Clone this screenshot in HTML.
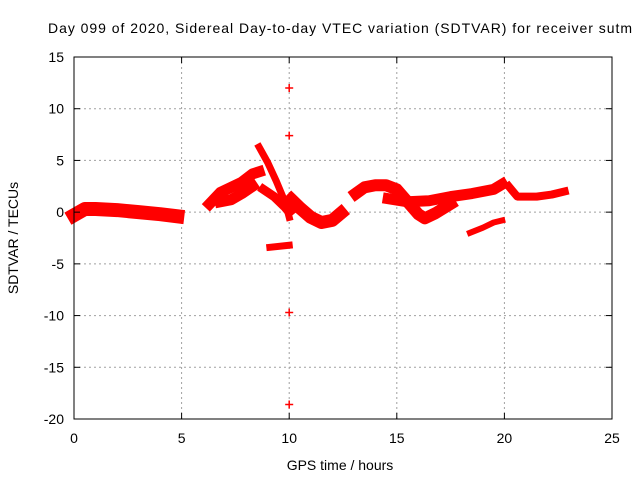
<!DOCTYPE html>
<html><head><meta charset="utf-8"><style>
body{margin:0;background:#fff}
svg{display:block;font-family:"Liberation Sans",sans-serif}
</style></head><body>
<svg id="chart" width="640" height="480">
<text x="340" y="33" font-size="14" text-anchor="middle" textLength="584" lengthAdjust="spacing">Day 099 of 2020, Sidereal Day-to-day VTEC variation (SDTVAR) for receiver sutm</text>
<text x="340" y="470" font-size="14" text-anchor="middle">GPS time / hours</text>
<text transform="translate(18,238) rotate(-90)" font-size="14" text-anchor="middle">SDTVAR / TECUs</text>
<g id="grid"></g><g id="marks"></g><g id="axes"></g>
</svg>
<script>
const xTicks=[0,5,10,15,20,25];
const yTicks=[15,10,5,0,-5,-10,-15,-20];
const trackA_h=[0,0.5,1,2,3,4,4.8];
const trackA_v=[-0.3,0.3,0.3,0.2,0.0,-0.2,-0.4];
const trackB1_h=[6.3,6.8,7.3,7.8,8.3,8.6];
const trackB1_v=[0.8,1.9,2.4,2.9,3.7,3.9];
const trackB2_h=[6.8,7.3,7.8,8.3];
const trackB2_v=[1.0,1.2,1.8,2.5];
const trackC_h=[8.6,9.0,9.4,9.7,9.9,10.0];
const trackC_v=[6.3,4.8,3.0,1.5,0.3,-0.5];
const trackD_h=[8.8,9.3,9.8,10.0];
const trackD_v=[2.2,1.5,0.5,0.0];
const trackE_h=[10.1,10.5,11,11.5,12,12.4];
const trackE_v=[1.2,0.4,-0.5,-1.0,-0.8,-0.1];
const trackF_h=[9.1,10.0];
const trackF_v=[-3.4,-3.2];
const trackG_h=[13.1,13.5,14,14.5,15,15.5,16,16.3,16.8,17.5];
const trackG_v=[1.8,2.4,2.6,2.6,2.2,1.0,-0.2,-0.6,-0.1,0.8];
const trackG2_h=[14.6,15.5,16.5,17.5,18.5,19.5,19.9];
const trackG2_v=[1.3,1.0,1.1,1.5,1.8,2.2,2.7];
const trackH_h=[20.2,20.6,21.5,22.2,22.8];
const trackH_v=[2.5,1.5,1.5,1.7,2.0];
const trackI_h=[18.4,19.0,19.5,19.9];
const trackI_v=[-2.0,-1.5,-1.0,-0.8];
const outlier_h=[10.0,10.0,10.0,10.0];
const outlier_v=[12.0,7.4,-9.7,-18.6];

const X0=74,X1=612,Y0=419,Y1=57;
const xs=h=>X0+(h-0)/(25-0)*(X1-X0);
const ys=v=>Y0-(v+20)/35*(Y0-Y1);
const NS="http://www.w3.org/2000/svg";
const mk=(t,p,a)=>{const e=document.createElementNS(NS,t);for(const k in a)e.setAttribute(k,a[k]);p.appendChild(e);return e;};
const grid=document.getElementById('grid'),marks=document.getElementById('marks'),axes=document.getElementById('axes');
xTicks.forEach(t=>{
  const x=xs(t);
  if(t>0&&t<25){const g=mk('line',grid,{x1:x,x2:x,y1:Y1,y2:Y0,stroke:'#a0a0a0','stroke-dasharray':'2,3'});
  
  }
  const l=mk('text',axes,{x:x,y:Y0+24,'font-size':14,'text-anchor':'middle'});l.textContent=t;
  
  
  mk('line',axes,{x1:x,x2:x,y1:Y0,y2:Y0-6,stroke:'#000'});
  mk('line',axes,{x1:x,x2:x,y1:Y1,y2:Y1+6,stroke:'#000'});
});
yTicks.forEach(t=>{
  const y=ys(t);
  if(t<15&&t>-20){const g=mk('line',grid,{x1:X0,x2:X1,y1:y,y2:y,stroke:'#a0a0a0','stroke-dasharray':'2,3'});
  
  }
  const l=mk('text',axes,{x:X0-10,y:y+5,'font-size':14,'text-anchor':'end'});l.textContent=t;
  
  
  mk('line',axes,{x1:X0,x2:X0+6,y1:y,y2:y,stroke:'#000'});
  mk('line',axes,{x1:X1,x2:X1-6,y1:y,y2:y,stroke:'#000'});
});
const frame=mk('rect',axes,{x:X0,y:Y1,width:X1-X0,height:Y0-Y1,fill:'none',stroke:'#000'});


const tracks=[[trackA_h,trackA_v,14],[trackB1_h,trackB1_v,11],[trackB2_h,trackB2_v,11],[trackC_h,trackC_v,7],[trackD_h,trackD_v,9],[trackE_h,trackE_v,13],[trackF_h,trackF_v,7],[trackG_h,trackG_v,12],[trackG2_h,trackG2_v,11],[trackH_h,trackH_v,8],[trackI_h,trackI_v,6]];
tracks.forEach(([h,v,w])=>{
  const p=mk('polyline',marks,{points:h.map((t,i)=>xs(t)+','+ys(v[i])).join(' '),fill:'none',stroke:'#ff0000','stroke-width':w,'stroke-linejoin':'round','stroke-linecap':'square'});
  
  
});
outlier_h.forEach((t,i)=>{
  const x=xs(t),y=ys(outlier_v[i]);
  const p=mk('path',marks,{d:`M${x-4},${y}H${x+4}M${x},${y-4}V${y+4}`,stroke:'#ff0000','stroke-width':1.5});
  
  
});
</script>
</body></html>
